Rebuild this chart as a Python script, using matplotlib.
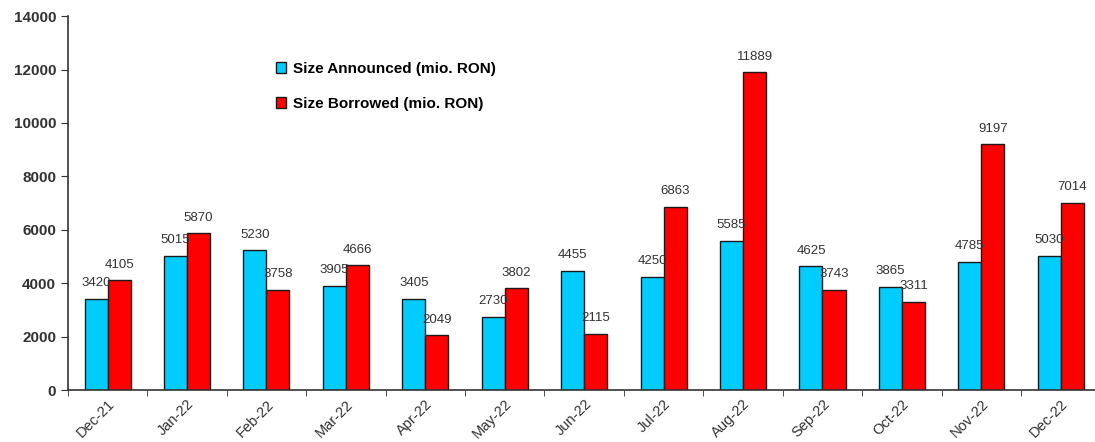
import numpy as np
import matplotlib.pyplot as plt

plt.rcParams['font.family'] = ['Liberation Sans', 'DejaVu Sans']

months = ["Dec-21", "Jan-22", "Feb-22", "Mar-22", "Apr-22", "May-22", "Jun-22",
          "Jul-22", "Aug-22", "Sep-22", "Oct-22", "Nov-22", "Dec-22"]
announced = [3420, 5015, 5230, 3905, 3405, 2730, 4455, 4250, 5585, 4625, 3865, 4785, 5030]
borrowed = [4105, 5870, 3758, 4666, 2049, 3802, 2115, 6863, 11889, 3743, 3311, 9197, 7014]

fig = plt.figure(figsize=(10.95, 4.42), dpi=100)
ax = fig.add_axes([0.062, 0.1176, 0.943, 0.846])

x = np.arange(len(months))
w = 0.29
ax.bar(x - w / 2, announced, w, color="#00ccff", edgecolor="#1a1a1a", linewidth=1,
       label="Size Announced (mio. RON)")
ax.bar(x + w / 2, borrowed, w, color="#ff0000", edgecolor="#1a1a1a", linewidth=1,
       label="Size Borrowed (mio. RON)")

# value labels above each bar
for xi, v in zip(x, announced):
    ax.annotate(str(v), (xi - w / 2, v), xytext=(0, 7), textcoords="offset points",
                ha="center", va="bottom", fontsize=9.5, color="#333333")
for xi, v in zip(x, borrowed):
    ax.annotate(str(v), (xi + w / 2, v), xytext=(0, 7), textcoords="offset points",
                ha="center", va="bottom", fontsize=9.5, color="#333333")

ax.set_ylim(0, 14000)
ax.set_yticks(range(0, 14001, 2000))
ax.set_xlim(-0.5, 12.5)
ax.set_xticks(x)
ax.set_xticklabels(months, rotation=45, ha="right", rotation_mode="anchor",
                   fontsize=10.5, color="#333333")
ax.set_xticks(np.arange(-0.5, 12.6, 1), minor=True)
ax.tick_params(axis="x", which="major", length=0, pad=5)
ax.tick_params(axis="x", which="minor", length=4, direction="out", color="#333333")
ax.tick_params(axis="y", length=5, direction="out", color="#333333", labelsize=11,
               labelcolor="#333333")
for lbl in ax.get_yticklabels():
    lbl.set_fontweight("bold")

for s in ["top", "right"]:
    ax.spines[s].set_visible(False)
for s in ["left", "bottom"]:
    ax.spines[s].set_color("#333333")
    ax.spines[s].set_linewidth(1.2)

ax.legend(loc="upper left", bbox_to_anchor=(0.188, 0.915), frameon=False,
          handlelength=0.7, handleheight=0.7, labelspacing=1.4,
          handletextpad=0.4, prop={"weight": "bold", "size": 11})

fig.savefig("out.png", dpi=100)
